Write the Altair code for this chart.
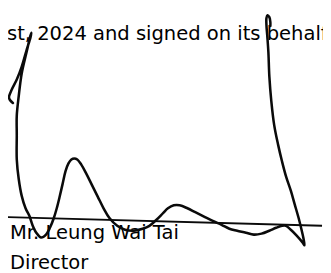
import altair as alt
import pandas as pd

# Signature stroke, in reference pixel coordinates (x right, y down)
sig_x = [13, 10, 9, 12, 17, 22, 27, 31, 32,
         31, 27, 22, 19, 17, 17, 17, 19, 22, 26, 30, 33, 37, 42, 47, 51, 55, 58, 61, 64, 67, 70, 73, 76,
         79, 83, 88, 94, 100, 106, 112, 120, 128, 137, 146, 153, 160, 167, 172, 178, 184, 192, 200, 210,
         218, 227, 235, 243, 252, 260, 268, 276, 283, 289, 293, 298, 304, 310, 312,
         311, 309, 306, 302, 298, 293, 289, 285, 281, 278, 276, 275, 274, 273, 273, 274, 276, 277, 277]
sig_y = [102, 99, 96, 88, 78, 65, 48, 35, 30,
         33, 50, 72, 95, 115, 135, 160, 180, 197, 210, 218, 227, 235, 240, 237, 230, 220, 210, 198, 185, 172, 164, 160, 159,
         160, 165, 174, 186, 198, 210, 220, 228, 232, 233, 231, 228, 222, 215, 210, 207, 207, 210, 214, 219,
         223, 227, 231, 233, 235, 237, 236, 233, 230, 228, 228, 232, 238, 245, 248,
         241, 232, 220, 206, 192, 177, 162, 145, 125, 100, 75, 50, 35, 22, 15, 12, 14, 19, 23]

# Signature line (rule) end points
rule_x = [5, 330]
rule_y = [219, 228]

top_text = "ust, 2024 and signed on its behalf"
name_text = "Mr. Leung Wai Tai"
title_text = "Director"

sig = pd.DataFrame({"x": sig_x, "y": sig_y, "i": list(range(len(sig_x)))})
rule = pd.DataFrame({"x": rule_x, "y": rule_y, "i": [0, 1]})

xs = alt.Scale(domain=[8, 331], nice=False, zero=False)
ys = alt.Scale(domain=[8, 273], nice=False, zero=False, reverse=True)

X = alt.X("x:Q", scale=xs, axis=None)
Y = alt.Y("y:Q", scale=ys, axis=None)

ink = "#0a0a0a"
font = "DejaVu Sans"

rule_layer = alt.Chart(rule).mark_line(color=ink, strokeWidth=2).encode(
    x=X, y=Y, order=alt.Order("i:Q"))

sig_layer = alt.Chart(sig).mark_line(
    color=ink, strokeWidth=2.6, interpolate="catmull-rom", strokeCap="round", strokeJoin="round"
).encode(x=X, y=Y, order=alt.Order("i:Q"))

def label(txt, px, py):
    return alt.Chart(pd.DataFrame({"t": [txt]})).mark_text(
        font=font, fontSize=20, color="#000000", align="left", baseline="alphabetic"
    ).encode(x=alt.value(px), y=alt.value(py), text="t:N")

chart = alt.layer(
    label(top_text, -13.7, 29),
    label(name_text, 2, 233),
    label(title_text, 2, 264),
    rule_layer,
    sig_layer,
).properties(
    width=323, height=265, padding=0, autosize=alt.AutoSizeParams(type="none")
).configure_view(stroke=None)

chart.save("out.html", embed_options={"renderer": "svg", "actions": False})
